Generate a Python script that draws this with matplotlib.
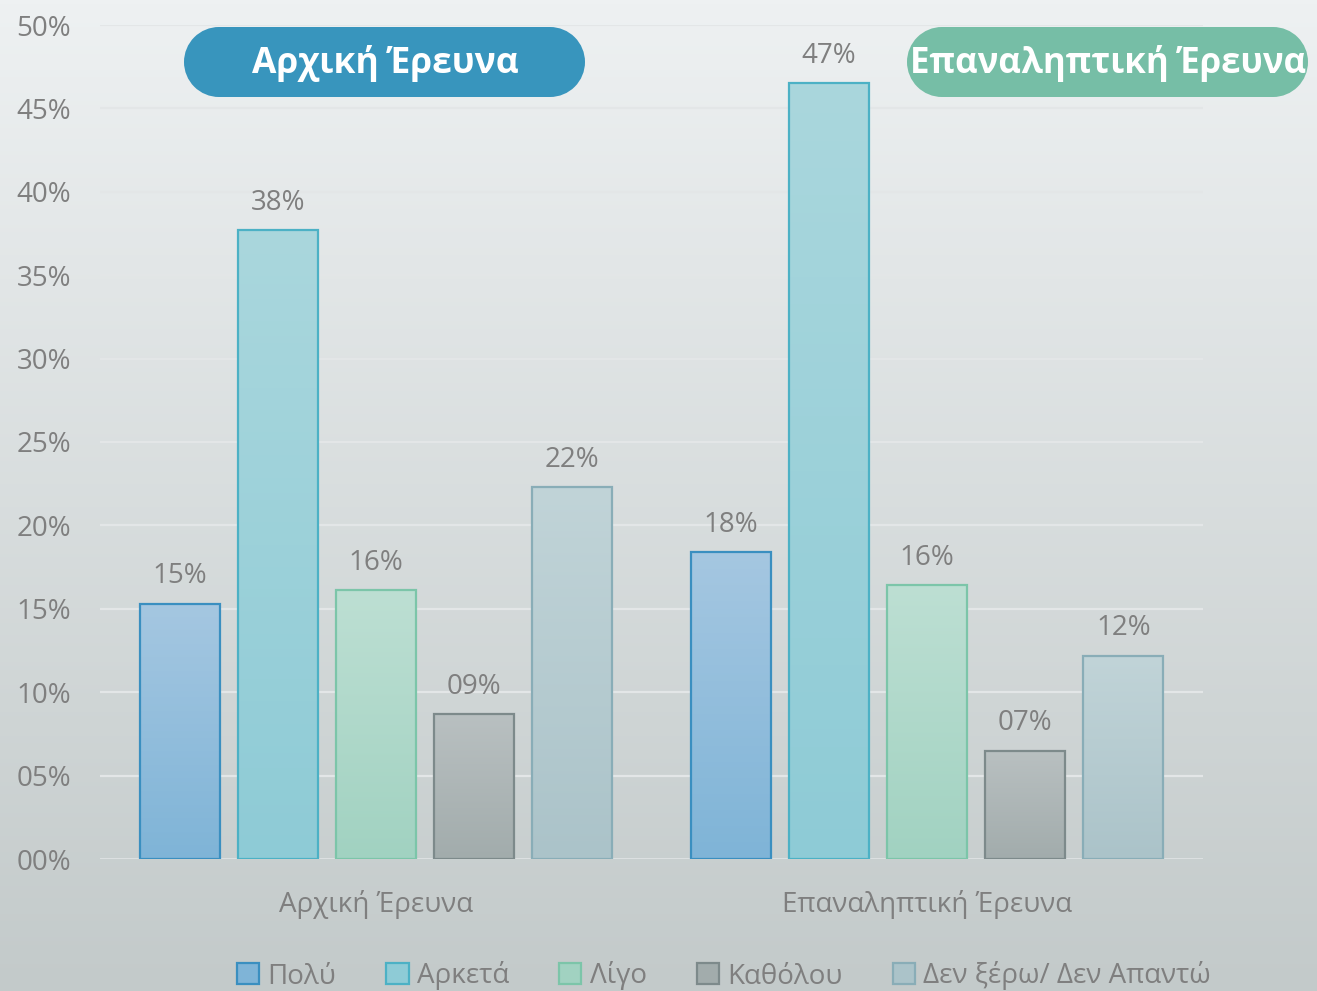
import matplotlib
matplotlib.use("Agg")
import matplotlib.pyplot as plt
import numpy as np
from matplotlib.patches import Rectangle, Circle, Patch
from matplotlib.colors import LinearSegmentedColormap

plt.rcParams['font.family'] = ['Open Sans', 'DejaVu Sans']

groups = ["Αρχική Έρευνα", "Επαναληπτική Έρευνα"]
series = ["Πολύ", "Αρκετά", "Λίγο", "Καθόλου", "Δεν ξέρω/ Δεν Απαντώ"]
values = {
    "Πολύ": [0.153, 0.184],
    "Αρκετά": [0.377, 0.465],
    "Λίγο": [0.161, 0.164],
    "Καθόλου": [0.087, 0.065],
    "Δεν ξέρω/ Δεν Απαντώ": [0.223, 0.122],
}
labels = {
    "Πολύ": ["15%", "18%"],
    "Αρκετά": ["38%", "47%"],
    "Λίγο": ["16%", "16%"],
    "Καθόλου": ["09%", "07%"],
    "Δεν ξέρω/ Δεν Απαντώ": ["22%", "12%"],
}
yticks = [0, 0.05, 0.10, 0.15, 0.20, 0.25, 0.30, 0.35, 0.40, 0.45, 0.50]
yticklabels = ["00%", "05%", "10%", "15%", "20%", "25%", "30%", "35%", "40%", "45%", "50%"]

# style: (top color, bottom color, edge color)
styles = {
    "Πολύ": ("#a5c7e1", "#7fb4d7", "#3a8fc0"),
    "Αρκετά": ("#aad7dd", "#8ecbd6", "#4cb1c5"),
    "Λίγο": ("#bddfd3", "#a1d2c1", "#7cc5a9"),
    "Καθόλου": ("#b9c0c1", "#a2acac", "#7d8a8b"),
    "Δεν ξέρω/ Δεν Απαντώ": ("#c1d4d8", "#abc3c9", "#89adb7"),
}

W, H = 1317, 991
fig = plt.figure(figsize=(W / 100, H / 100), dpi=100)

# background gradient
bg = fig.add_axes([0, 0, 1, 1], zorder=-10)
bg.axis('off')
bgcmap = LinearSegmentedColormap.from_list("bg", ["#c3caca", "#eef1f2"])
bg.imshow(np.linspace(0, 1, 256).reshape(-1, 1), aspect='auto', cmap=bgcmap,
          extent=[0, 1, 0, 1], origin='lower')
bg.set_xlim(0, 1)
bg.set_ylim(0, 1)

ax = fig.add_axes([100 / W, (H - 859) / H, 1103 / W, 834 / H])
ax.set_facecolor('none')
ax.set_xlim(-0.5, 1.5)
ax.set_ylim(0, 0.5)

for y in yticks:
    ax.axhline(y, color="#e3e6e7" if y > 0 else "#dfe3e4", lw=2 if y == 0 else 1.6, zorder=1)

bw = 80 / 551
step = 98 / 551
x = np.arange(len(groups))
for i, s in enumerate(series):
    top, bot, edge = styles[s]
    cmap = LinearSegmentedColormap.from_list(s, [bot, top])
    pos = x + (i - 2) * step
    bars = ax.bar(pos, values[s], width=bw, facecolor='none', edgecolor=edge,
                  linewidth=1.6, zorder=3)
    for b, lab in zip(bars, labels[s]):
        x0, y0 = b.get_x(), b.get_y()
        w, h = b.get_width(), b.get_height()
        im = ax.imshow(np.linspace(0, 1, 256).reshape(-1, 1), aspect='auto', cmap=cmap,
                       extent=[x0, x0 + w, 0, h], origin='lower', zorder=2)
        im.set_clip_path(b)
        ax.text(x0 + w / 2, h + 0.008, lab, ha='center', va='bottom',
                fontsize=20, color="#7f7f7f", zorder=4)

ax.set_xlim(-0.5, 1.5)
ax.set_ylim(0, 0.5)
ax.set_yticks(yticks)
ax.set_yticklabels(yticklabels, fontsize=20, color="#7f7f7f")
ax.set_xticks(x)
ax.set_xticklabels(groups, fontsize=20, color="#7f7f7f")
ax.tick_params(axis='both', length=0)
ax.tick_params(axis='x', pad=22)
ax.tick_params(axis='y', pad=21)
for sp in ax.spines.values():
    sp.set_visible(False)

# badges drawn in an overlay axes with pixel coordinates
ov = fig.add_axes([0, 0, 1, 1], zorder=10)
ov.set_xlim(0, W)
ov.set_ylim(H, 0)
ov.axis('off')
ov.patch.set_alpha(0)

def badge(x0, x1, y0, y1, color, text, tx, fs):
    r = (y1 - y0) / 2
    cy = (y0 + y1) / 2
    ov.add_patch(Rectangle((x0 + r, y0), x1 - x0 - 2 * r, y1 - y0,
                           facecolor=color, edgecolor='none', antialiased=True))
    ov.add_patch(Circle((x0 + r, cy), r, facecolor=color, edgecolor='none'))
    ov.add_patch(Circle((x1 - r, cy), r, facecolor=color, edgecolor='none'))
    ov.text(tx, cy + 1, text, ha='center', va='center',
            fontsize=fs, fontweight='bold', color='white', zorder=5)

badge(184, 585, 27, 97, "#3895bd", "Αρχική Έρευνα", 385, 25.5)
badge(907, 1308, 27, 97, "#76bea6", "Επαναληπτική Έρευνα", 1108, 25)

handles = [Patch(facecolor=styles[s][1], edgecolor=styles[s][2], linewidth=1.6) for s in series]
leg = fig.legend(handles, series, loc='center', bbox_to_anchor=(724 / W, 1 - 976 / H),
                 ncol=5, frameon=False, fontsize=20, handlelength=0.8, handleheight=0.8,
                 handletextpad=0.3, columnspacing=1.8, labelcolor="#7f7f7f")

fig.savefig("out.png", dpi=100)
